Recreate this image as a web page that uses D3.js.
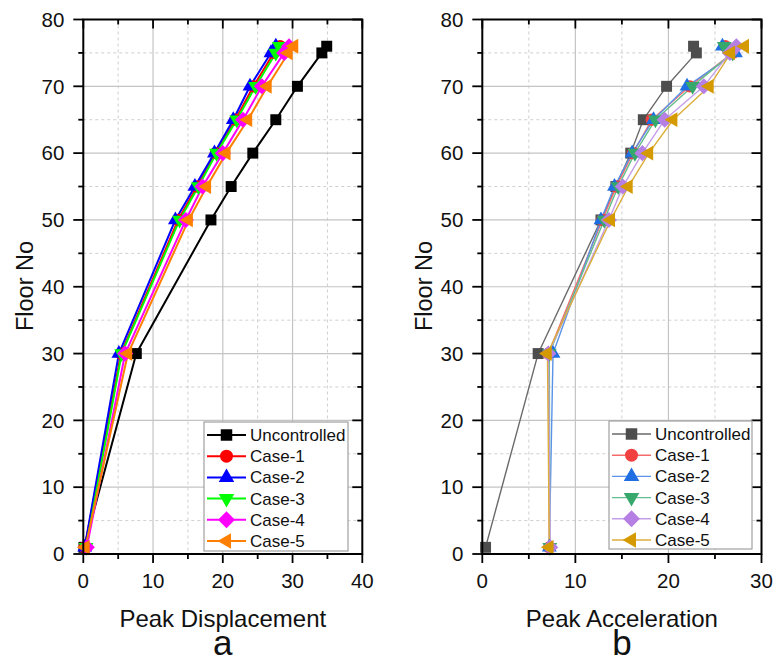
<!DOCTYPE html>
<html>
<head>
<meta charset="utf-8">
<script src="https://cdn.jsdelivr.net/npm/d3@7"></script>
<style>
  html, body { margin: 0; padding: 0; background: #fff; }
  svg { display: block; font-family: "Liberation Sans", Arial, sans-serif; }
</style>
</head>
<body>
<svg id="chart" width="774" height="662"></svg>
<script>
// Floors at which peak responses were recorded
const floors = [1, 30, 50, 55, 60, 65, 70, 75, 76];

const seriesNames = ["Uncontrolled", "Case-1", "Case-2", "Case-3", "Case-4", "Case-5"];

// Peak displacement per floor
const dispUncontrolled = [0.1, 7.6, 18.3, 21.2, 24.3, 27.6, 30.7, 34.2, 34.9];
const dispCase1 = [0.2, 5.4, 13.6, 16.3, 19.0, 21.8, 24.4, 27.3, 28.2];
const dispCase2 = [0.2, 5.1, 13.2, 16.0, 18.8, 21.5, 23.9, 26.9, 27.6];
const dispCase3 = [0.4, 5.5, 13.8, 16.5, 19.1, 22.0, 24.7, 27.6, 28.1];
const dispCase4 = [0.5, 6.0, 14.7, 17.1, 20.0, 22.9, 25.6, 28.8, 29.5];
const dispCase5 = [0.3, 6.4, 15.1, 17.7, 20.5, 23.6, 26.4, 29.4, 30.2];

// Peak acceleration per floor
const accUncontrolled = [0.35, 6.0, 12.75, 14.35, 15.95, 17.3, 19.8, 23.0, 22.7];
const accCase1 = [7.2, 7.1, 12.9, 14.4, 16.2, 18.2, 22.3, 26.9, 26.1];
const accCase2 = [7.2, 7.6, 12.75, 14.2, 16.1, 18.4, 22.0, 27.2, 25.8];
const accCase3 = [7.25, 7.2, 13.1, 14.6, 16.4, 18.6, 22.6, 26.9, 26.0];
const accCase4 = [7.3, 7.1, 13.6, 15.1, 17.2, 19.6, 23.8, 26.6, 27.3];
const accCase5 = [7.2, 7.0, 13.8, 15.7, 17.9, 20.5, 24.4, 26.7, 28.2];

// Axis ticks
const yTicks = [0, 10, 20, 30, 40, 50, 60, 70, 80];
const dispTicks = [0, 10, 20, 30, 40];
const accTicks = [0, 10, 20, 30];

const svg = d3.select("#chart");

const panelTop = 19.5, panelBottom = 554;

// Symbol generators for each series
const diamond = {
  draw(ctx, size) {
    const r = Math.sqrt(size / 2);
    ctx.moveTo(0, -r); ctx.lineTo(r, 0); ctx.lineTo(0, r); ctx.lineTo(-r, 0); ctx.closePath();
  }
};
const markerDefs = [
  { type: d3.symbolSquare, size: 120, rot: 0 },
  { type: d3.symbolCircle, size: 120, rot: 0 },
  { type: d3.symbolTriangle, size: 95, rot: 0 },
  { type: d3.symbolTriangle, size: 95, rot: 180 },
  { type: diamond, size: 130, rot: 0 },
  { type: d3.symbolTriangle, size: 95, rot: -90 }
];

function drawPanel(cfg) {
  const x = d3.scaleLinear().domain(cfg.xDomain).range([cfg.left, cfg.right]);
  const y = d3.scaleLinear().domain([0, 80]).range([panelBottom, panelTop]);
  const g = svg.append("g");

  // minor grid (dotted) and major grid (solid)
  const xMinor = d3.range(cfg.xDomain[0] + 5, cfg.xDomain[1], 10);
  const yMinor = d3.range(5, 80, 10);
  const xMajor = cfg.xTicks.filter(v => v > cfg.xDomain[0] && v < cfg.xDomain[1]);
  const yMajor = yTicks.filter(v => v > 0 && v < 80);

  g.selectAll(".gxm").data(xMinor).join("line")
    .attr("x1", d => x(d)).attr("x2", d => x(d)).attr("y1", panelTop).attr("y2", panelBottom)
    .attr("stroke", "#cfcfcf").attr("stroke-width", 1).attr("stroke-dasharray", "3,3");
  g.selectAll(".gym").data(yMinor).join("line")
    .attr("y1", d => y(d)).attr("y2", d => y(d)).attr("x1", cfg.left).attr("x2", cfg.right)
    .attr("stroke", "#cfcfcf").attr("stroke-width", 1).attr("stroke-dasharray", "3,3");
  g.selectAll(".gxM").data(xMajor).join("line")
    .attr("x1", d => x(d)).attr("x2", d => x(d)).attr("y1", panelTop).attr("y2", panelBottom)
    .attr("stroke", "#c4c4c4").attr("stroke-width", 1.2);
  g.selectAll(".gyM").data(yMajor).join("line")
    .attr("y1", d => y(d)).attr("y2", d => y(d)).attr("x1", cfg.left).attr("x2", cfg.right)
    .attr("stroke", "#c4c4c4").attr("stroke-width", 1.2);

  // series lines and markers
  const line = d3.line().x(d => x(d[0])).y(d => y(d[1]));
  cfg.series.forEach((vals, i) => {
    const pts = vals.map((v, k) => [v, floors[k]]);
    g.append("path").datum(pts)
      .attr("d", line).attr("fill", "none")
      .attr("stroke", cfg.lineColors[i]).attr("stroke-width", cfg.lineWidth)
      .attr("stroke-linejoin", "round");
  });
  cfg.series.forEach((vals, i) => {
    const m = markerDefs[i];
    const sym = d3.symbol().type(m.type).size(m.size * cfg.markerScale);
    const pts = vals.map((v, k) => [v, floors[k]]);
    g.selectAll(null).data(pts).join("path")
      .attr("d", sym)
      .attr("transform", d => `translate(${x(d[0])},${y(d[1])}) rotate(${m.rot})`)
      .attr("fill", cfg.colors[i]);
  });

  // frame
  const ax = g.append("g").attr("stroke", "#000").attr("stroke-width", 2).attr("fill", "none");
  ax.append("rect").attr("x", cfg.left).attr("y", panelTop)
    .attr("width", cfg.right - cfg.left).attr("height", panelBottom - panelTop);

  // ticks: bottom/left outward, top/right inward
  const xAll = d3.range(cfg.xDomain[0], cfg.xDomain[1] + 0.001, 5);
  const yAll = d3.range(0, 80.001, 5);
  xAll.forEach(v => {
    const major = v % 10 === 0;
    const L = major ? 9 : 5;
    ax.append("line").attr("x1", x(v)).attr("x2", x(v)).attr("y1", panelBottom).attr("y2", panelBottom + L).attr("stroke-width", 1.8);
    ax.append("line").attr("x1", x(v)).attr("x2", x(v)).attr("y1", panelTop).attr("y2", panelTop + L).attr("stroke-width", 1.8);
  });
  yAll.forEach(v => {
    const major = v % 10 === 0;
    const L = major ? 10 : 5;
    ax.append("line").attr("y1", y(v)).attr("y2", y(v)).attr("x1", cfg.left - L).attr("x2", cfg.left).attr("stroke-width", 1.8);
    ax.append("line").attr("y1", y(v)).attr("y2", y(v)).attr("x1", cfg.right - L).attr("x2", cfg.right).attr("stroke-width", 1.8);
  });

  // tick labels
  g.selectAll(".xt").data(cfg.xTicks).join("text")
    .attr("x", d => x(d)).attr("y", 587.5).attr("text-anchor", "middle")
    .attr("font-size", 20.5).attr("fill", "#111").text(d => d);
  g.selectAll(".yt").data(yTicks).join("text")
    .attr("x", cfg.left - 19).attr("y", d => y(d) + 7.3).attr("text-anchor", "end")
    .attr("font-size", 20.5).attr("fill", "#111").text(d => d);

  // axis titles
  g.append("text").attr("x", (cfg.left + cfg.right) / 2).attr("y", 627)
    .attr("text-anchor", "middle").attr("font-size", 24).attr("fill", "#111").text(cfg.xTitle);
  g.append("text").attr("transform", `translate(${cfg.left - 50.5},286) rotate(-90)`)
    .attr("text-anchor", "middle").attr("font-size", 23.5).attr("fill", "#111").text("Floor No");
  g.append("text").attr("x", (cfg.left + cfg.right) / 2).attr("y", 655)
    .attr("text-anchor", "middle").attr("font-size", 35).attr("fill", "#111").text(cfg.panelLabel);

  // legend
  const lg = g.append("g");
  lg.append("rect").attr("x", cfg.legend.x).attr("y", cfg.legend.y)
    .attr("width", cfg.legend.w).attr("height", cfg.legend.h)
    .attr("fill", "#fff").attr("stroke", "#a0a0a0").attr("stroke-width", 1.2);
  seriesNames.forEach((name, i) => {
    const ry = cfg.legend.y + 13 + i * 21.2;
    const lx0 = cfg.legend.x + 3, lx1 = cfg.legend.x + 42;
    lg.append("line").attr("x1", lx0).attr("x2", lx1).attr("y1", ry).attr("y2", ry)
      .attr("stroke", cfg.lineColors[i]).attr("stroke-width", cfg.lineWidth);
    const m = markerDefs[i];
    lg.append("path")
      .attr("d", d3.symbol().type(m.type).size(m.size * cfg.markerScale * 1.1))
      .attr("transform", `translate(${(lx0 + lx1) / 2},${ry}) rotate(${m.rot})`)
      .attr("fill", cfg.colors[i]);
    lg.append("text").attr("x", cfg.legend.x + 46).attr("y", ry + 6)
      .attr("font-size", 17).attr("fill", "#111").text(name);
  });
}

drawPanel({
  left: 83.3, right: 362.3,
  xDomain: [0, 40], xTicks: dispTicks,
  series: [dispUncontrolled, dispCase1, dispCase2, dispCase3, dispCase4, dispCase5],
  colors: ["#000000", "#ff0000", "#0000ff", "#00ff00", "#ff00ff", "#ff8000"],
  lineColors: ["#000000", "#ff0000", "#0000ff", "#00ff00", "#ff00ff", "#ff8000"],
  lineWidth: 2, markerScale: 1,
  xTitle: "Peak Displacement", panelLabel: "a",
  legend: { x: 204, y: 422, w: 144, h: 129 }
});

drawPanel({
  left: 482.3, right: 761.5,
  xDomain: [0, 30], xTicks: accTicks,
  series: [accUncontrolled, accCase1, accCase2, accCase3, accCase4, accCase5],
  colors: ["#4d4d4d", "#f24040", "#1f6fe3", "#37a86c", "#b57fe3", "#d49a00"],
  lineColors: ["#6a6a6a", "#f56a6a", "#5a93e8", "#64bd8c", "#c49ee8", "#dcae3a"],
  lineWidth: 1.4, markerScale: 1,
  xTitle: "Peak Acceleration", panelLabel: "b",
  legend: { x: 609, y: 421, w: 143, h: 128 }
});
</script>
</body>
</html>
